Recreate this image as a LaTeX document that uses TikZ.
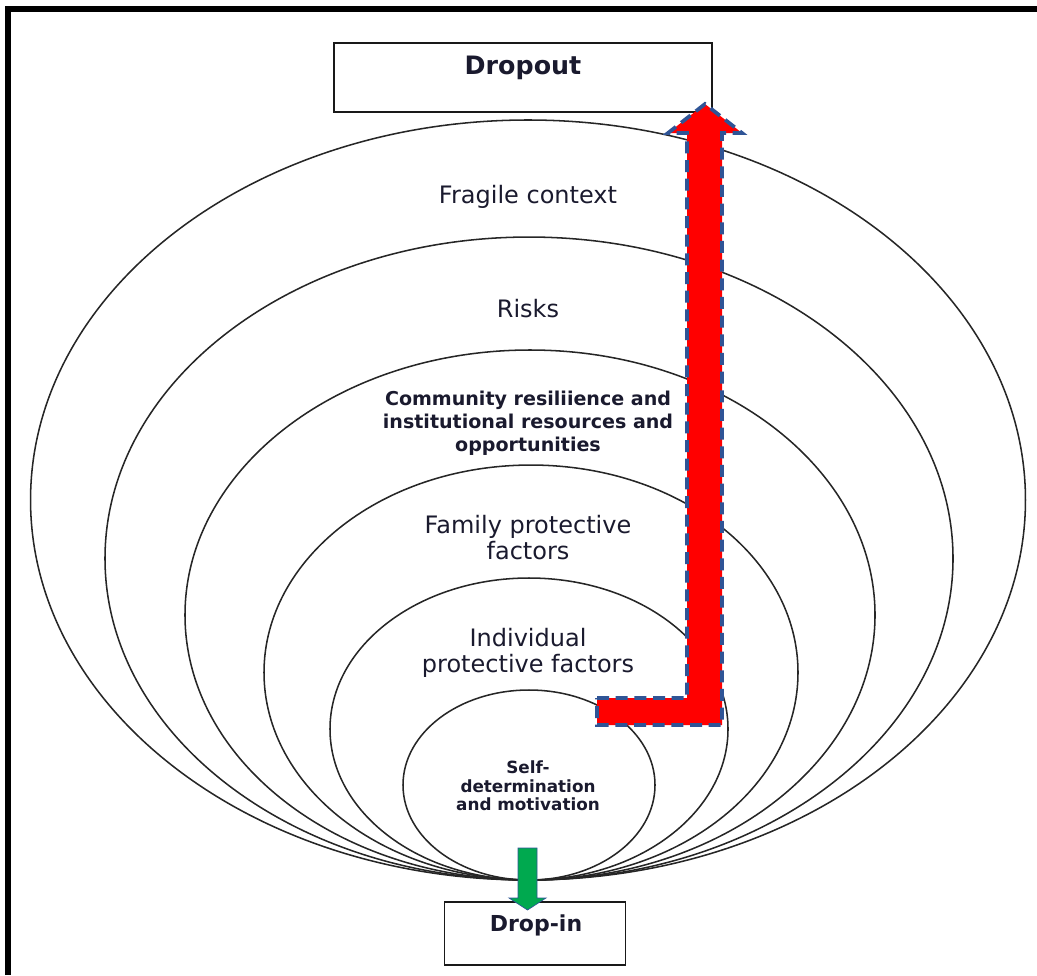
\documentclass[tikz,border=0pt]{standalone}
\usepackage{fontspec}
\setmainfont{DejaVu Sans}
\definecolor{arrowred}{HTML}{FF0000}
\definecolor{edgeblue}{HTML}{2F5496}
\definecolor{dropgreen}{HTML}{00A94F}
\definecolor{txt}{HTML}{1A1A2E}
\begin{document}
\begin{tikzpicture}[x=0.75pt,y=-0.75pt,
  ring/.style={draw=black!85,line width=1.15pt},
  box/.style={draw=black!90,line width=1.3pt,inner sep=0pt},
  lbl/.style={text=txt,align=center,inner sep=0pt},
  biglbl/.style={lbl,font=\fontsize{18}{19.5}\selectfont},
  midlbl/.style={lbl,font=\bfseries\fontsize{14.3}{17.25}\selectfont},
  smalllbl/.style={lbl,font=\bfseries\fontsize{12.6}{14}\selectfont},
  boxlbl/.style={lbl,font=\bfseries\fontsize{19}{22}\selectfont}]
\useasboundingbox (0,0) rectangle (1037,975);
% frame (open at right and bottom)
\draw[line width=4.5pt] (8,975) -- (8,9) -- (1037,9);
% nested ellipses
\draw[ring] (528,500) ellipse [x radius=373.1pt, y radius=285pt];
\draw[ring] (529,558.5) ellipse [x radius=318pt, y radius=241.1pt];
\draw[ring] (530,615) ellipse [x radius=258.75pt, y radius=198.75pt];
\draw[ring] (531,672.5) ellipse [x radius=200.25pt, y radius=155.6pt];
\draw[ring] (529,729) ellipse [x radius=149.25pt, y radius=113.25pt];
\draw[ring] (529,785) ellipse [x radius=94.5pt, y radius=71.25pt];
% boxes
\node[box,minimum width=283.5pt,minimum height=51.75pt] (dropout) at (523,77.5) {};
\node[boxlbl] (dropouttxt) at (523,68) {Dropout};
\node[box,minimum width=135.75pt,minimum height=47.25pt] (dropin) at (535,933.5) {};
\node[boxlbl,font=\bfseries\fontsize{16.5}{20}\selectfont] (dropintxt) at (536,925) {Drop-in};
% labels
\node[biglbl] (fragile) at (528,197) {Fragile context};
\node[biglbl] (risks) at (528,309) {Risks};
\node[midlbl] (community) at (528,423) {Community resiliience and\\institutional resources and\\opportunities};
\node[biglbl] (family) at (528,538) {Family protective\\factors};
\node[biglbl] (individual) at (528,653) {Individual\\protective factors};
\node[smalllbl] (self) at (528,786) {Self-\\determination\\and motivation};
% red L-shaped arrow
\coordinate (rA) at (597,698);
\coordinate (rB) at (687,698);
\coordinate (rC) at (687,133);
\coordinate (rD) at (668,133);
\coordinate (rTip) at (705,104);
\coordinate (rE) at (742,133);
\coordinate (rF) at (722,133);
\coordinate (rG) at (722,725);
\coordinate (rH) at (597,725);
\draw[fill=arrowred,draw=edgeblue,line width=2.8pt,dash pattern=on 9pt off 5pt,line join=miter]
  (rA) -- (rB) -- (rC) -- (rD) -- (rTip) -- (rE) -- (rF) -- (rG) -- (rH) -- cycle;
% green arrow into Drop-in
\coordinate (gA) at (518,848);
\coordinate (gB) at (537,848);
\coordinate (gC) at (537,898);
\coordinate (gD) at (546,898);
\coordinate (gTip) at (527.5,910);
\coordinate (gE) at (509,898);
\coordinate (gF) at (518,898);
\draw[fill=dropgreen,draw=edgeblue,line width=0.5pt]
  (gA) -- (gB) -- (gC) -- (gD) -- (gTip) -- (gE) -- (gF) -- cycle;
\end{tikzpicture}
\end{document}
